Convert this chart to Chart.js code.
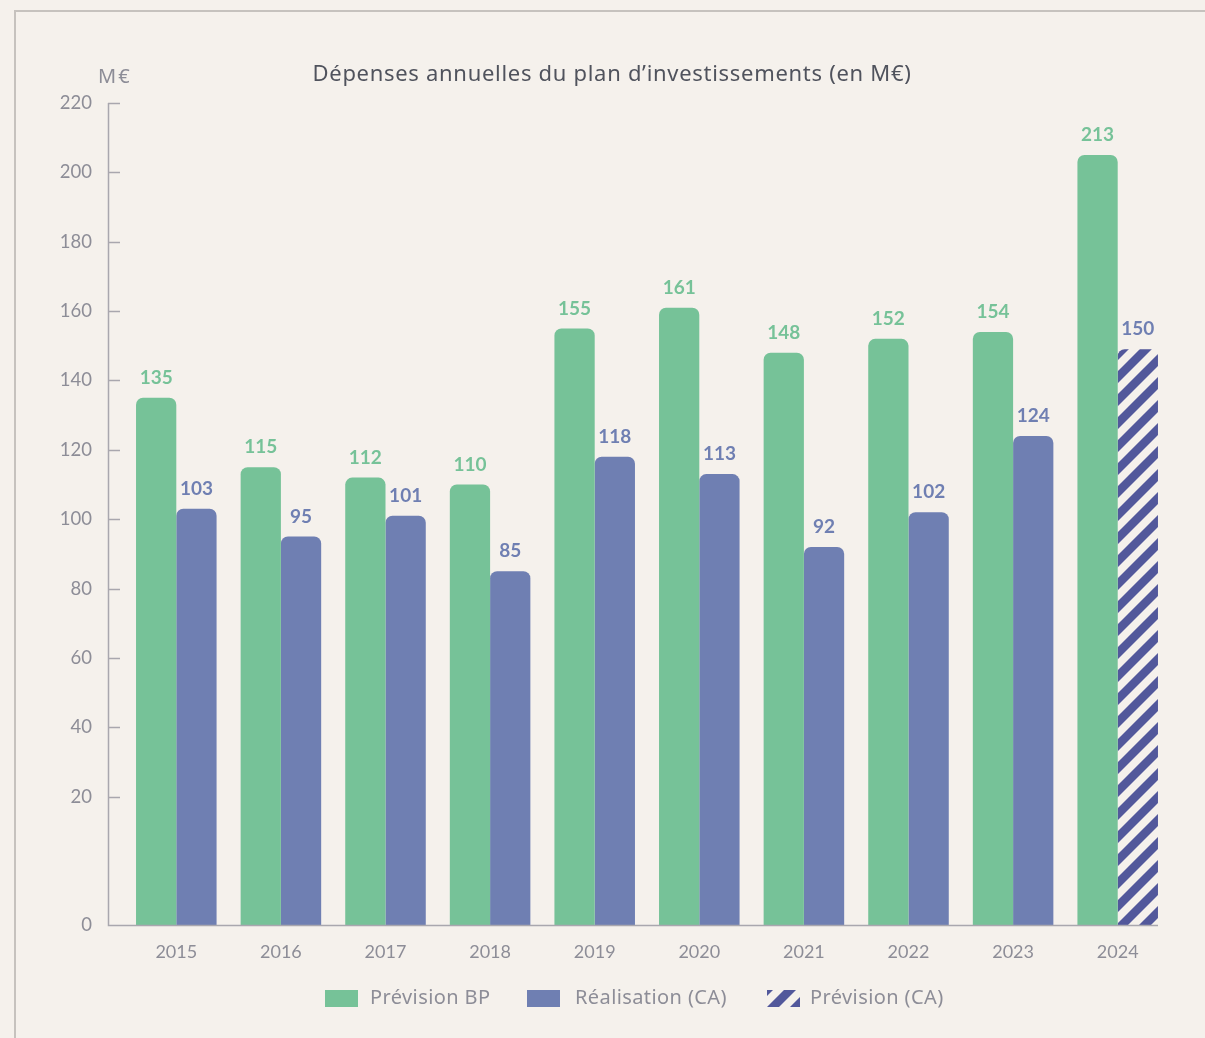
<!DOCTYPE html>
<html><head><meta charset="utf-8">
<script src="https://cdn.jsdelivr.net/npm/chart.js@4.4.1/dist/chart.umd.min.js"></script>
<style>html,body{margin:0;padding:0;background:#f5f1ec;}canvas{display:block}</style>
</head><body>
<canvas id="c" width="1205" height="1038"></canvas>
<script>
// ---- data ----
const categories = ['2015','2016','2017','2018','2019','2020','2021','2022','2023','2024'];
const previsionBP = [135, 115, 112, 110, 155, 161, 148, 152, 154, 205];       // drawn heights
const previsionBPLabels = ['135','115','112','110','155','161','148','152','154','213']; // printed values
const realisationCA = [103, 95, 101, 85, 118, 113, 92, 102, 124, null];
const previsionCA = [null, null, null, null, null, null, null, null, null, 149];
const realisationLabels = ['103','95','101','85','118','113','92','102','124','150'];
const yTickValues = [20, 40, 60, 80, 100, 120, 140, 160, 180, 200, 220];
const yAxisMin = -17;   // bottom of the axis, printed "0"
const yAxisMax = 220;
const legendLabels = ['Prévision BP', 'Réalisation (CA)', 'Prévision (CA)'];
const titleText = 'Dépenses annuelles du plan d’investissements (en M€)';
const unitText = 'M€';

// ---- styles ----
const BG = '#f5f1ec';
const GREEN = '#76c298';
const BLUE = '#6f7fb2';
const NAVY = '#52589b';
const AXIS = '#a9a7ae';
const TICKTXT = '#8d8d97';
const FONT = 'Lato, "Noto Sans", sans-serif';
const FONT2 = '"Noto Sans", Lato, sans-serif';
const AXIS_X = 108;      // pixel position of the drawn y-axis line
const AXIS_END = 1158;   // right end of the drawn x-axis line

function makeHatch() {
  const s = 23;
  const p = document.createElement('canvas');
  p.width = s; p.height = s;
  const g = p.getContext('2d');
  g.strokeStyle = NAVY; g.lineWidth = 8.5; g.lineCap = 'square';
  for (const o of [-s, 0, s]) {
    g.beginPath(); g.moveTo(o - 2, s + 2); g.lineTo(o + s + 2, -2); g.stroke();
  }
  return g.createPattern(p, 'repeat');
}

const ctx0 = document.getElementById('c').getContext('2d');
const hatch = makeHatch();
const combinedCA = realisationCA.map((v, i) => v !== null ? v : previsionCA[i]);

const decorPlugin = {
  id: 'decor',
  beforeDraw(chart) {
    const c = chart.ctx;
    c.save();
    c.fillStyle = BG; c.fillRect(0, 0, chart.width, chart.height);
    c.strokeStyle = '#c6c2be'; c.lineWidth = 2;
    c.beginPath(); c.moveTo(15, chart.height + 5); c.lineTo(15, 11); c.lineTo(chart.width + 5, 11); c.stroke();
    c.restore();
  },
  afterDatasetsDraw(chart) {
    const c = chart.ctx;
    const y = chart.scales.y;
    c.save();
    c.strokeStyle = AXIS; c.lineWidth = 1.5;
    const yb = Math.round(y.getPixelForValue(yAxisMin)) + 0.5;
    const yt = Math.round(y.getPixelForValue(yAxisMax));
    c.beginPath(); c.moveTo(AXIS_X + 0.5, yt); c.lineTo(AXIS_X + 0.5, yb); c.lineTo(AXIS_END, yb); c.stroke();
    y.ticks.forEach(t => {
      if (t.value === yAxisMin) return;
      const py = Math.round(y.getPixelForValue(t.value)) + 0.5;
      c.beginPath(); c.moveTo(AXIS_X, py); c.lineTo(AXIS_X + 12, py); c.stroke();
    });
    c.restore();
  },
  afterDraw(chart) {
    const c = chart.ctx;
    c.save();
    // title
    c.fillStyle = '#50535d';
    c.font = '22px ' + FONT2;
    c.letterSpacing = '0.7px';
    c.textAlign = 'center'; c.textBaseline = 'middle';
    c.fillText(titleText, 612, 75);
    // unit
    c.fillStyle = TICKTXT; c.font = '20px ' + FONT2; c.textAlign = 'left';
    c.letterSpacing = '2px';
    c.fillText(unitText, 98, 77);
    c.letterSpacing = '0px';
    // value labels
    c.font = 'bold 19px ' + FONT; c.textAlign = 'center';
    const lab = [previsionBPLabels, realisationLabels];
    const col = [GREEN, BLUE];
    chart.data.datasets.forEach((ds, di) => {
      chart.getDatasetMeta(di).data.forEach((el, i) => {
        if (ds.data[i] === null) return;
        c.fillStyle = col[di];
        c.fillText(lab[di][i], el.x, el.y - 20);
      });
    });
    // legend
    const fills = [GREEN, BLUE, hatch];
    const boxX = [325, 527, 767];
    const txtX = [370, 575, 810];
    c.font = '20px ' + FONT2; c.textBaseline = 'middle';
    c.letterSpacing = '0.4px';
    const ly = 998;
    legendLabels.forEach((t, i) => {
      if (i === 2) {
        c.save(); c.translate(boxX[i], ly - 8); c.fillStyle = hatch; c.fillRect(0, 0, 33, 17); c.restore();
      } else { c.fillStyle = fills[i]; c.fillRect(boxX[i], ly - 8, 33, 17); }
      c.fillStyle = TICKTXT; c.textAlign = 'left';
      c.fillText(t, txtX[i], ly);
    });
    c.restore();
  }
};

new Chart(ctx0, {
  type: 'bar',
  data: {
    labels: categories,
    datasets: [
      { label: legendLabels[0], data: previsionBP, backgroundColor: GREEN },
      { label: legendLabels[1], data: combinedCA,
        backgroundColor: (ctx) => (previsionCA[ctx.dataIndex] !== null ? hatch : BLUE) }
    ]
  },
  options: {
    responsive: false, animation: false, devicePixelRatio: 1,
    datasets: { bar: { base: yAxisMin, categoryPercentage: 0.77, barPercentage: 1.0, borderRadius: 7 } },
    layout: { padding: { left: 14, right: 35, top: 103, bottom: 73 } },
    plugins: { legend: { display: false }, title: { display: false }, tooltip: { enabled: false } },
    scales: {
      x: {
        grid: { display: false, drawTicks: false },
        border: { display: false },
        ticks: { padding: 16, color: TICKTXT, font: { family: FONT, size: 18 } },
        afterFit(s) { s.height = 40; }
      },
      y: {
        min: yAxisMin, max: yAxisMax,
        grid: { display: false, drawTicks: false },
        border: { display: false },
        afterBuildTicks(s) { s.ticks = [{ value: yAxisMin }].concat(yTickValues.map(v => ({ value: v }))); },
        ticks: { padding: 32, color: TICKTXT, font: { family: FONT, size: 18.5 },
                 callback: (v) => (v === yAxisMin ? '0' : String(v)) },
        afterFit(s) { s.width = 110; }
      }
    }
  },
  plugins: [decorPlugin]
});
</script>
</body></html>
